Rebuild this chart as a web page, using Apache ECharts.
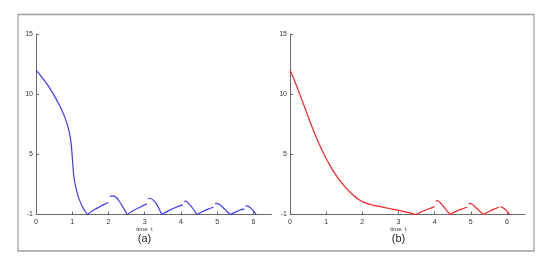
<!DOCTYPE html>
<html><head><meta charset="utf-8">
<script src="https://cdn.jsdelivr.net/npm/echarts@6/dist/echarts.min.js"></script>
<style>html,body{margin:0;padding:0;background:#fff}#c{width:548px;height:265px}</style>
</head><body><div id="c"></div>
<script>
// x tick labels and y tick labels
const xTicks = [0, 1, 2, 3, 4, 5, 6];
const yTicks = [0, 5, 10, 15];
const yTickLabels = ['-1', '5', '10', '15'];
const xName = 'time  t';
const panelNames = ['(a)', '(b)'];

// Panel (a), blue curve, broken into segments [t, value]
const blueSeg1 = [[0,12],[0.1,11.65],[0.2,11.25],[0.3,10.85],[0.4,10.4],[0.5,9.9],[0.6,9.35],[0.7,8.75],[0.8,8.05],[0.88,7.3],[0.94,6.5],[0.98,5.6],[1.0,4.8],[1.02,4.0],[1.04,3.3],[1.07,2.7],[1.11,2.1],[1.16,1.55],[1.22,1.05],[1.29,0.6],[1.36,0.25],[1.42,0],[1.55,0.3],[1.7,0.55],[1.85,0.8],[2.0,1.0]];
const blueSeg2 = [[2.04,1.5],[2.1,1.55],[2.2,1.45],[2.3,1.1],[2.4,0.6],[2.52,0],[2.7,0.35],[2.9,0.65],[3.06,0.9]];
const blueSeg3 = [[3.1,1.3],[3.15,1.35],[3.25,1.15],[3.35,0.75],[3.47,0],[3.65,0.3],[3.85,0.58],[4.05,0.8]];
const blueSeg4 = [[4.08,1.08],[4.13,1.12],[4.22,0.9],[4.33,0.5],[4.44,0],[4.6,0.25],[4.75,0.45],[4.9,0.6]];
const blueSeg5 = [[4.94,0.9],[4.99,0.93],[5.1,0.75],[5.22,0.4],[5.36,0],[5.5,0.2],[5.62,0.35],[5.75,0.47]];
const blueSeg6 = [[5.78,0.7],[5.82,0.71],[5.92,0.55],[6.0,0.3],[6.08,0]];

// Panel (b), red curve
const redSeg1 = [[0,12],[0.1,11.3],[0.2,10.55],[0.3,9.75],[0.4,8.95],[0.5,8.15],[0.6,7.35],[0.7,6.6],[0.8,5.9],[0.9,5.25],[1.0,4.65],[1.1,4.1],[1.2,3.6],[1.3,3.15],[1.4,2.75],[1.5,2.38],[1.6,2.04],[1.7,1.74],[1.8,1.48],[1.9,1.25],[2.0,1.07],[2.12,0.92],[2.3,0.78],[2.5,0.65],[2.75,0.5],[3.0,0.35],[3.25,0.18],[3.48,0],[3.65,0.25],[3.85,0.48],[4.0,0.65]];
const redSeg2 = [[4.03,1.1],[4.08,1.15],[4.18,0.9],[4.3,0.45],[4.43,0],[4.6,0.28],[4.75,0.45],[4.9,0.6]];
const redSeg3 = [[4.94,0.9],[4.98,0.93],[5.08,0.75],[5.22,0.35],[5.35,0],[5.5,0.25],[5.65,0.45],[5.78,0.6]];
const redSeg4 = [[5.82,0.66],[5.9,0.55],[6.0,0.3],[6.07,0]];

const blueSegs = [blueSeg1, blueSeg2, blueSeg3, blueSeg4, blueSeg5, blueSeg6];
const redSegs = [redSeg1, redSeg2, redSeg3, redSeg4];

// split each segment at its sharp minima (value 0) so the cusps stay sharp
function splitAtCusps(seg){
  const parts = []; let cur = [];
  seg.forEach((p, i) => {
    cur.push(p);
    if (p[1] === 0 && i > 0 && i < seg.length - 1) { parts.push(cur); cur = [p]; }
  });
  if (cur.length > 1) parts.push(cur);
  return parts;
}

const font = 'Liberation Sans';
const axisCol = '#6a6a6a';
function xAx(i){
  return {type:'value', gridIndex:i, min:0, max:6.5,
    axisLine:{show:true, lineStyle:{color:axisCol, width:1}},
    axisTick:{show:true, inside:true, length:3, customValues:xTicks, lineStyle:{color:axisCol}},
    axisLabel:{customValues:xTicks, fontSize:7, color:'#333', margin:4, fontFamily:font},
    splitLine:{show:false}};
}
function yAx(i){
  return {type:'value', gridIndex:i, min:0, max:15,
    axisLine:{show:true, lineStyle:{color:axisCol, width:1}},
    axisTick:{show:true, inside:true, length:3, customValues:yTicks, lineStyle:{color:axisCol}},
    axisLabel:{customValues:yTicks, fontSize:7, color:'#333', margin:3, fontFamily:font,
      formatter:v => yTickLabels[yTicks.indexOf(v)]},
    splitLine:{show:false}};
}
const lineBase = {type:'line', smooth:0.3, showSymbol:false, silent:true};
const series = [];
blueSegs.forEach(s => splitAtCusps(s).forEach(p => series.push(Object.assign({}, lineBase, {xAxisIndex:0, yAxisIndex:0, data:p, lineStyle:{color:'#3a3aff', width:1.2}}))));
redSegs.forEach(s => splitAtCusps(s).forEach(p => series.push(Object.assign({}, lineBase, {xAxisIndex:1, yAxisIndex:1, data:p, lineStyle:{color:'#ff2424', width:1.2}}))));

const chart = echarts.init(document.getElementById('c'), null, {renderer:'canvas'});
chart.setOption({
  animation:false,
  backgroundColor:'#fff',
  grid:[{left:36, width:235.5, top:34, height:180.5},{left:290, width:235, top:34, height:180.5}],
  xAxis:[xAx(0), xAx(1)],
  yAxis:[yAx(0), yAx(1)],
  series: series,
  graphic:[
    {type:'rect', shape:{x:18, y:14.5, width:516, height:236.5}, style:{fill:null, stroke:'#a0a0a0', lineWidth:1.3}, silent:true},
    {type:'text', x:144.5, y:229, style:{text:xName, fontSize:6, fill:'#333', align:'center', verticalAlign:'middle', fontFamily:font}},
    {type:'text', x:398.5, y:229, style:{text:xName, fontSize:6, fill:'#333', align:'center', verticalAlign:'middle', fontFamily:font}},
    {type:'text', x:144.5, y:239, style:{text:panelNames[0], fontSize:11, fill:'#222', align:'center', verticalAlign:'middle', fontFamily:font}},
    {type:'text', x:398.5, y:239, style:{text:panelNames[1], fontSize:11, fill:'#222', align:'center', verticalAlign:'middle', fontFamily:font}}
  ]
});
</script></body></html>
